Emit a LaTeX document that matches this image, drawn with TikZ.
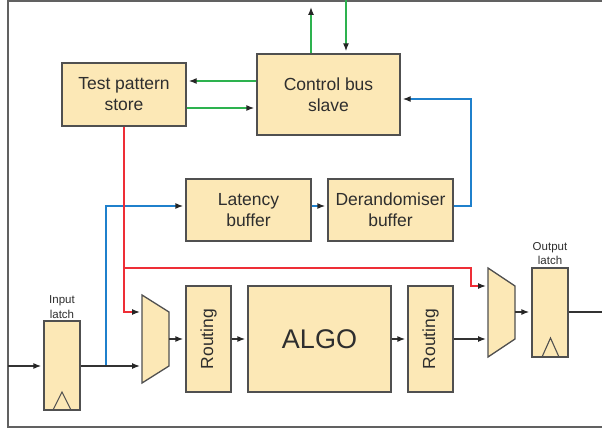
\documentclass[tikz,border=0pt]{standalone}
\usepackage{fontspec}
\setmainfont{Liberation Sans}
\usetikzlibrary{arrows.meta}
\definecolor{boxfill}{HTML}{FCE8B6}
\definecolor{boxline}{HTML}{505050}
\definecolor{txt}{HTML}{2E2E2E}
\definecolor{busgreen}{HTML}{2DB24F}
\definecolor{sigblue}{HTML}{1F80CC}
\definecolor{sigred}{HTML}{EE2E36}
\tikzset{
  block/.style={draw=boxline, fill=boxfill, line width=1.3pt, text=txt,
    inner sep=0pt, align=center, font=\fontsize{17.5}{21}\selectfont},
  latchbox/.style={draw=boxline, fill=boxfill, line width=1.3pt, inner sep=0pt},
  smalllabel/.style={text=txt, align=center, inner sep=0pt,
    font=\fontsize{11.5}{14.5}\selectfont},
  wire/.style={line width=1.3pt, draw=black!80,
    -{Latex[length=8pt,width=6pt,color=black!85]}, shorten >=2pt},
  plainwire/.style={line width=1.3pt, draw=black!80},
  muxshape/.style={draw=boxline, fill=boxfill, line width=1.3pt, line join=miter},
}
\begin{document}
\begin{tikzpicture}[x=1pt,y=-1pt]
\useasboundingbox (0,0) rectangle (602,428);

% outer frame (open to the right)
\draw[boxline!90, line width=1.3pt] (602,1) -- (8,1) -- (8,427) -- (602,427);

% blocks
\node[block, minimum width=124pt, minimum height=63pt] (tps) at (124,94.5) {Test pattern\\store};
\node[block, minimum width=143pt, minimum height=81pt] (cbs) at (328.5,94.5) {Control bus\\slave};
\node[block, minimum width=125pt, minimum height=62pt] (lat) at (248.5,210) {Latency\\buffer};
\node[block, minimum width=125pt, minimum height=62pt] (der) at (390.5,210) {Derandomiser\\buffer};
\node[block, minimum width=45pt, minimum height=106pt] (rt1) at (208.5,339) {};
\node[text=txt, rotate=90, font=\fontsize{17.5}{20}\selectfont] at (rt1.center) {Routing};
\node[block, minimum width=143pt, minimum height=106pt, font=\fontsize{27}{30}\selectfont] (algo) at (319.5,339) {ALGO};
\node[block, minimum width=45pt, minimum height=106pt] (rt2) at (430.5,339) {};
\node[text=txt, rotate=90, font=\fontsize{17.5}{20}\selectfont] at (rt2.center) {Routing};

% latches with clock marks
\node[latchbox, minimum width=36pt, minimum height=89pt] (il) at (62,365.5) {};
\draw[boxline, line width=1.1pt] (53,410) -- (62,392) -- (71,410);
\node[smalllabel] (illabel) at (62,307) {Input\\latch};
\node[latchbox, minimum width=36pt, minimum height=89pt] (ol) at (550,312.5) {};
\draw[boxline, line width=1.1pt] (542,357) -- (550.5,338) -- (559,357);
\node[smalllabel] (ollabel) at (550,253.5) {Output\\latch};

% multiplexers
\draw[muxshape] (142,295) -- (169,312) -- (169,366) -- (142,383) -- cycle;
\coordinate (m1a) at (142,312);
\coordinate (m1b) at (142,366);
\coordinate (m1o) at (169,339);
\draw[muxshape] (488,268) -- (515,286) -- (515,339) -- (488,357) -- cycle;
\coordinate (m2a) at (488,286);
\coordinate (m2b) at (488,339);
\coordinate (m2o) at (515,312);

% external bus connections
\coordinate (busout) at (311,5);
\coordinate (busin) at (346,0);
\draw[wire, busgreen] (cbs.north -| busout) -- (busout);
\draw[wire, busgreen] (busin) -- (cbs.north -| busin);

% control bus <-> test pattern store
\draw[wire, busgreen] (cbs.west |- {(0,81)}) -- (tps.east |- {(0,81)});
\draw[wire, busgreen] (tps.east |- {(0,108)}) -- (cbs.west |- {(0,108)});

% readout path
\coordinate (tap) at (106,366);
\coordinate (din) at (8,366);
\coordinate (dout) at (602,312);
\draw[wire, sigblue] (tap) -- (106,206) -- (lat.west |- {(0,206)});
\draw[wire, sigblue] (lat.east |- {(0,206)}) -- (der.west |- {(0,206)});
\draw[wire, sigblue] (der.east |- {(0,206)}) -- (471,206) -- (471,99) -- (cbs.east |- {(0,99)});

% test pattern injection
\draw[wire, sigred] (tps.south) -- (124,312) -- (m1a);
\draw[wire, sigred] (124,268) -- (471,268) -- (471,286) -- (m2a);

% main data path
\draw[wire] (din) -- (il.west |- din);
\draw[wire] (il.east |- din) -- (m1b);
\draw[wire] (m1o) -- (rt1.west |- m1o);
\draw[wire] (rt1.east) -- (algo.west);
\draw[wire] (algo.east) -- (rt2.west);
\draw[wire] (rt2.east) -- (m2b);
\draw[wire] (m2o) -- (ol.west |- m2o);
\draw[plainwire] (ol.east |- m2o) -- (dout);
\end{tikzpicture}
\end{document}
